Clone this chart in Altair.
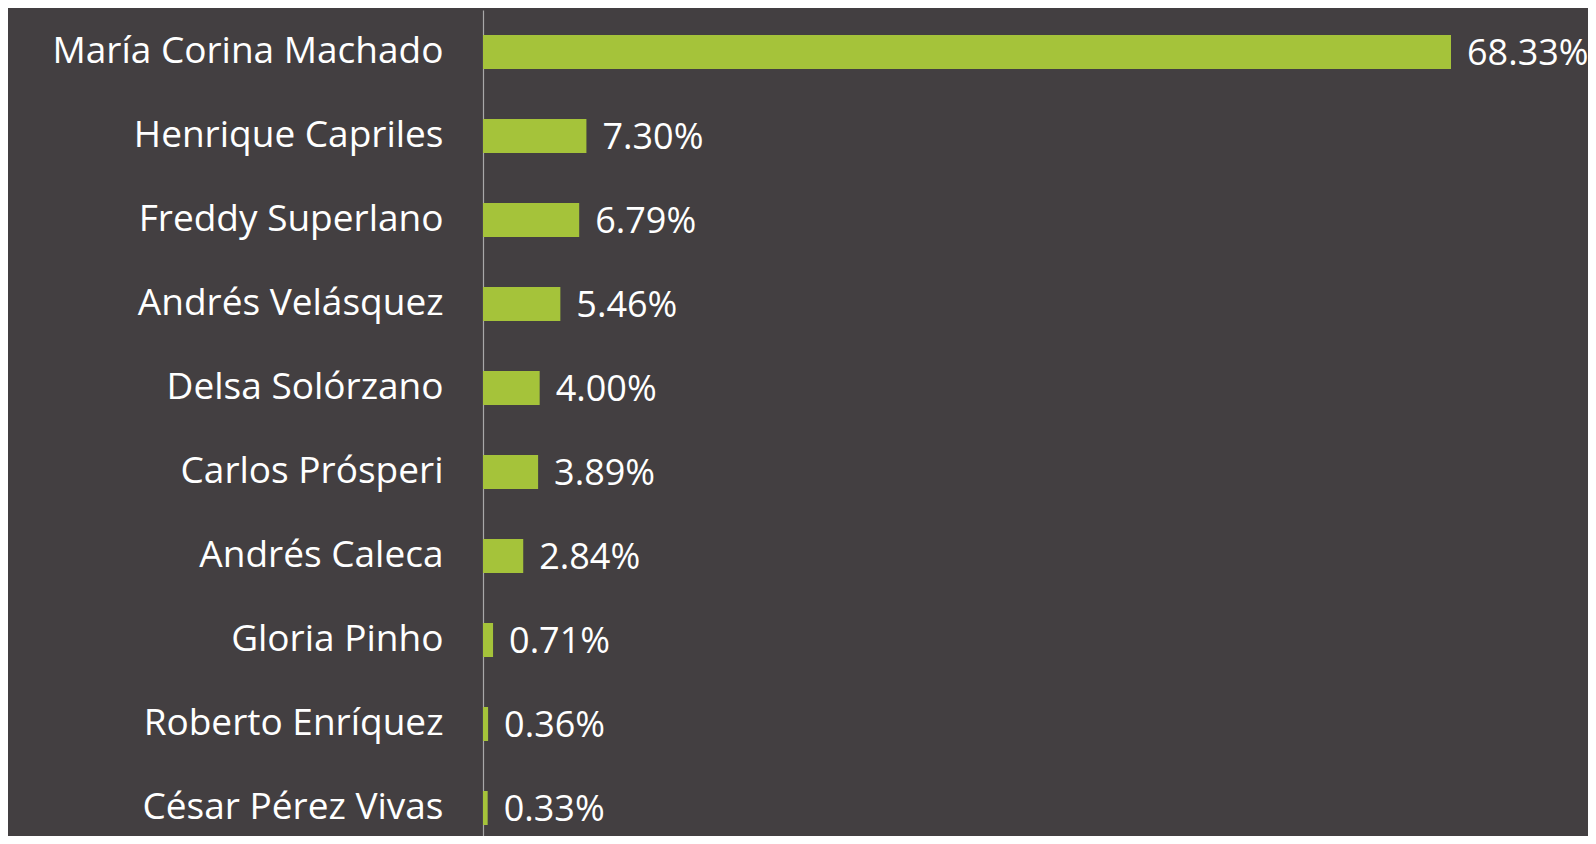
import altair as alt
import pandas as pd

candidates = [
    "María Corina Machado", "Henrique Capriles", "Freddy Superlano",
    "Andrés Velásquez", "Delsa Solórzano", "Carlos Prósperi",
    "Andrés Caleca", "Gloria Pinho", "Roberto Enríquez", "César Pérez Vivas",
]
percentages = [68.33, 7.30, 6.79, 5.46, 4.00, 3.89, 2.84, 0.71, 0.36, 0.33]
value_labels = ["68.33%", "7.30%", "6.79%", "5.46%", "4.00%", "3.89%",
                "2.84%", "0.71%", "0.36%", "0.33%"]

df = pd.DataFrame({"candidate": candidates, "pct": percentages, "label": value_labels})

BG = "#433f41"
BAR = "#a5c33a"
FONT = "Open Sans"

y_enc = alt.Y(
    "candidate:N",
    sort=candidates,
    scale=alt.Scale(paddingInner=0.595, paddingOuter=0.2975, range=[0, 840]),
    axis=alt.Axis(
        title=None, ticks=False, grid=False, domain=True,
        domainColor="#a8a8a8", domainWidth=1.2,
        labelColor="#ffffff", labelFont=FONT, labelFontSize=37,
        labelPadding=40, labelLimit=0,
    ),
)
x_enc = alt.X("pct:Q", scale=alt.Scale(domain=[0, 72], nice=False), axis=None)

bars = alt.Chart(df).mark_bar(color=BAR).encode(x=x_enc, y=y_enc)
text = alt.Chart(df).mark_text(
    align="left", baseline="middle", dx=16, dy=2, color="#ffffff",
    font=FONT, fontSize=36,
).encode(x=x_enc, y=alt.Y("candidate:N", sort=candidates), text="label:N")

chart = (bars + text).properties(
    width=1020, height=826, background=BG,
    padding={"left": 475, "top": 2, "right": 85, "bottom": 0},
    autosize=alt.AutoSizeParams(type="none"),
    usermeta={"embedOptions": {"defaultStyle": "html, body { background: #433f41; }"}},
).configure_view(stroke=None)

chart.save("out.html", embed_options={"renderer": "svg", "actions": False})
